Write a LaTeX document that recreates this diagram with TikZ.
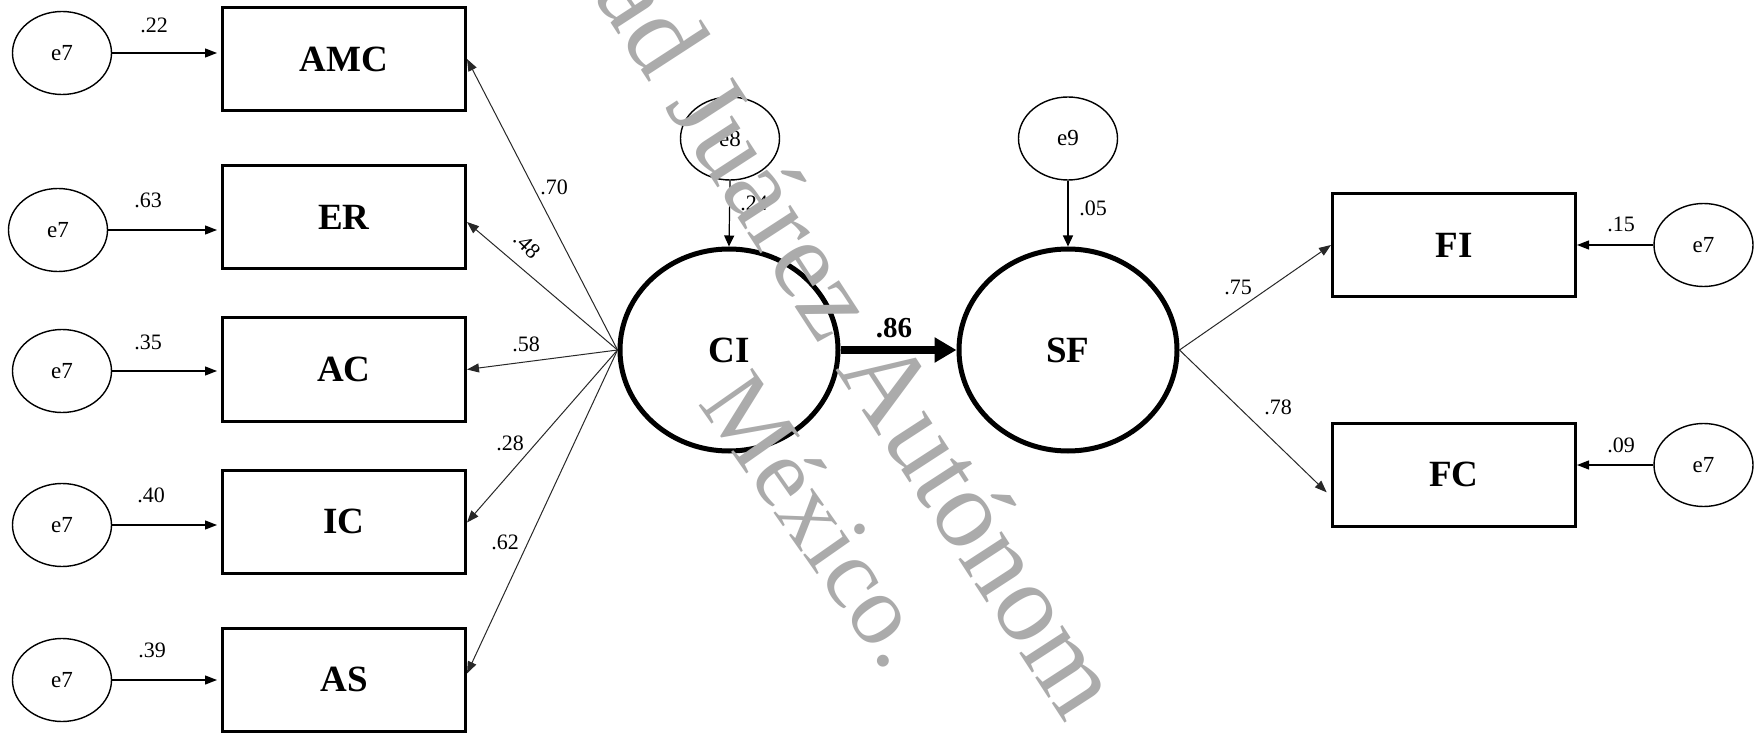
\documentclass[tikz,border=0pt]{standalone}
\usepackage{fontspec}
\setmainfont{Liberation Serif}
\usetikzlibrary{shapes.geometric,arrows.meta}
\definecolor{wm}{RGB}{171,171,171}
\definecolor{ln}{RGB}{40,40,40}
\begin{document}
\begin{tikzpicture}[x=1pt,y=-1pt,
  err/.style={ellipse,draw,line width=1.4pt,minimum width=99pt,minimum height=83pt,inner sep=0pt,font=\fontsize{23}{27}\selectfont},
  obs/.style={rectangle,draw,line width=3pt,minimum width=243pt,minimum height=103pt,inner sep=0pt,font=\fontsize{37}{42}\selectfont\bfseries},
  lat/.style={ellipse,draw,line width=5pt,minimum width=218pt,minimum height=202pt,inner sep=0pt,font=\fontsize{37}{42}\selectfont\bfseries},
  coef/.style={inner sep=0pt,font=\fontsize{22}{26}\selectfont},
  arr/.style={line width=1.3pt,-{Triangle[length=12pt,width=9pt]},shorten >=4pt},
  load/.style={ln,line width=1pt,-{Triangle[length=12pt,width=9pt]}},
  wmark/.style={wm,inner sep=0pt,anchor=base}
]
\fill[white] (0,0) rectangle (1759,735);
\useasboundingbox (0,0) rectangle (1759,735);

% observed boxes (left)
\node[obs] (AMC) at (344,59) {AMC};
\node[obs] (ER) at (344,217) {ER};
\node[obs] (AC) at (344,369.5) {AC};
\node[obs] (IC) at (344,521.5) {IC};
\node[obs] (AS) at (344,679.5) {AS};

% error terms (left)
\node[err] (e1) at (62,53) {e7};
\node[err] (e2) at (58,230) {e7};
\node[err] (e3) at (62,371) {e7};
\node[err] (e4) at (62,525) {e7};
\node[err] (e5) at (62,680) {e7};

\draw[arr] (e1.east) -- (e1.east -| AMC.west);
\draw[arr] (e2.east) -- (e2.east -| ER.west);
\draw[arr] (e3.east) -- (e3.east -| AC.west);
\draw[arr] (e4.east) -- (e4.east -| IC.west);
\draw[arr] (e5.east) -- (e5.east -| AS.west);

\node[coef] (l1) at (154,25) {.22};
\node[coef] (l2) at (148,200) {.63};
\node[coef] (l3) at (148,342) {.35};
\node[coef] (l4) at (151,495) {.40};
\node[coef] (l5) at (152,650) {.39};

% latent variables
\node[lat] (CI) at (729,350) {CI};
\node[lat] (SF) at (1068,350) {SF};
\node[err] (e8) at (730,138.5) {e8};
\node[err] (e9) at (1068,138.5) {e9};

\draw[line width=1.2pt,-{Triangle[length=11pt,width=10pt]}] (e8.south) -- (CI.north);
\draw[line width=1.2pt,-{Triangle[length=11pt,width=10pt]}] (e9.south) -- (SF.north);
\node[coef] (c24) at (754,203) {.24};
\node[coef] (c05) at (1093,208) {.05};

\draw[line width=8.5pt,-{Triangle[length=22pt,width=24pt]}] (CI.east) -- (SF.west);
\node[inner sep=0pt,font=\fontsize{29}{33}\selectfont\bfseries] (c86) at (894,328) {.86};

% loadings CI -> indicators
\draw[load] (CI.west) -- (AMC.east);
\draw[load] (CI.west) -- ([yshift=-5pt]ER.east);
\draw[load] (CI.west) -- (AC.east);
\draw[load] (CI.west) -- ([yshift=-1pt]IC.east);
\draw[load] (CI.west) -- ([yshift=6pt]AS.east);
\node[coef] (k1) at (554,187) {.70};
\node[coef,rotate=-45] (k2) at (527,245) {.48};
\node[coef] (k3) at (526,344) {.58};
\node[coef] (k4) at (510,443) {.28};
\node[coef] (k5) at (505,542) {.62};

% right side
\node[obs] (FI) at (1454,245) {FI};
\node[obs] (FC) at (1454,474.5) {FC};
\node[err] (e10) at (1703.5,245) {e7};
\node[err] (e11) at (1703.5,465) {e7};
\draw[line width=1.3pt,-{Triangle[length=12pt,width=9pt]}] (e10.west) -- (e10.west -| FI.east);
\draw[line width=1.3pt,-{Triangle[length=12pt,width=9pt]}] (e11.west) -- (e11.west -| FC.east);
\node[coef] (r1) at (1621,224) {.15};
\node[coef] (r2) at (1621,445) {.09};

\draw[load] (SF.east) -- (FI.west);
\draw[load,shorten >=6pt] (SF.east) -- ([yshift=-22pt]FC.west);
\node[coef] (s1) at (1238,287) {.75};
\node[coef] (s2) at (1278,407) {.78};

% watermark
\begin{scope}
\clip (0,0) rectangle (1759,735);
\node[wmark,rotate=-57,font=\fontsize{112}{115}\selectfont] (w1) at (814,336) {dad Juárez Autónom};
\node[wmark,rotate=-55,font=\fontsize{100}{104}\selectfont] (w2) at (792,539) {México.};
\end{scope}
\end{tikzpicture}
\end{document}
